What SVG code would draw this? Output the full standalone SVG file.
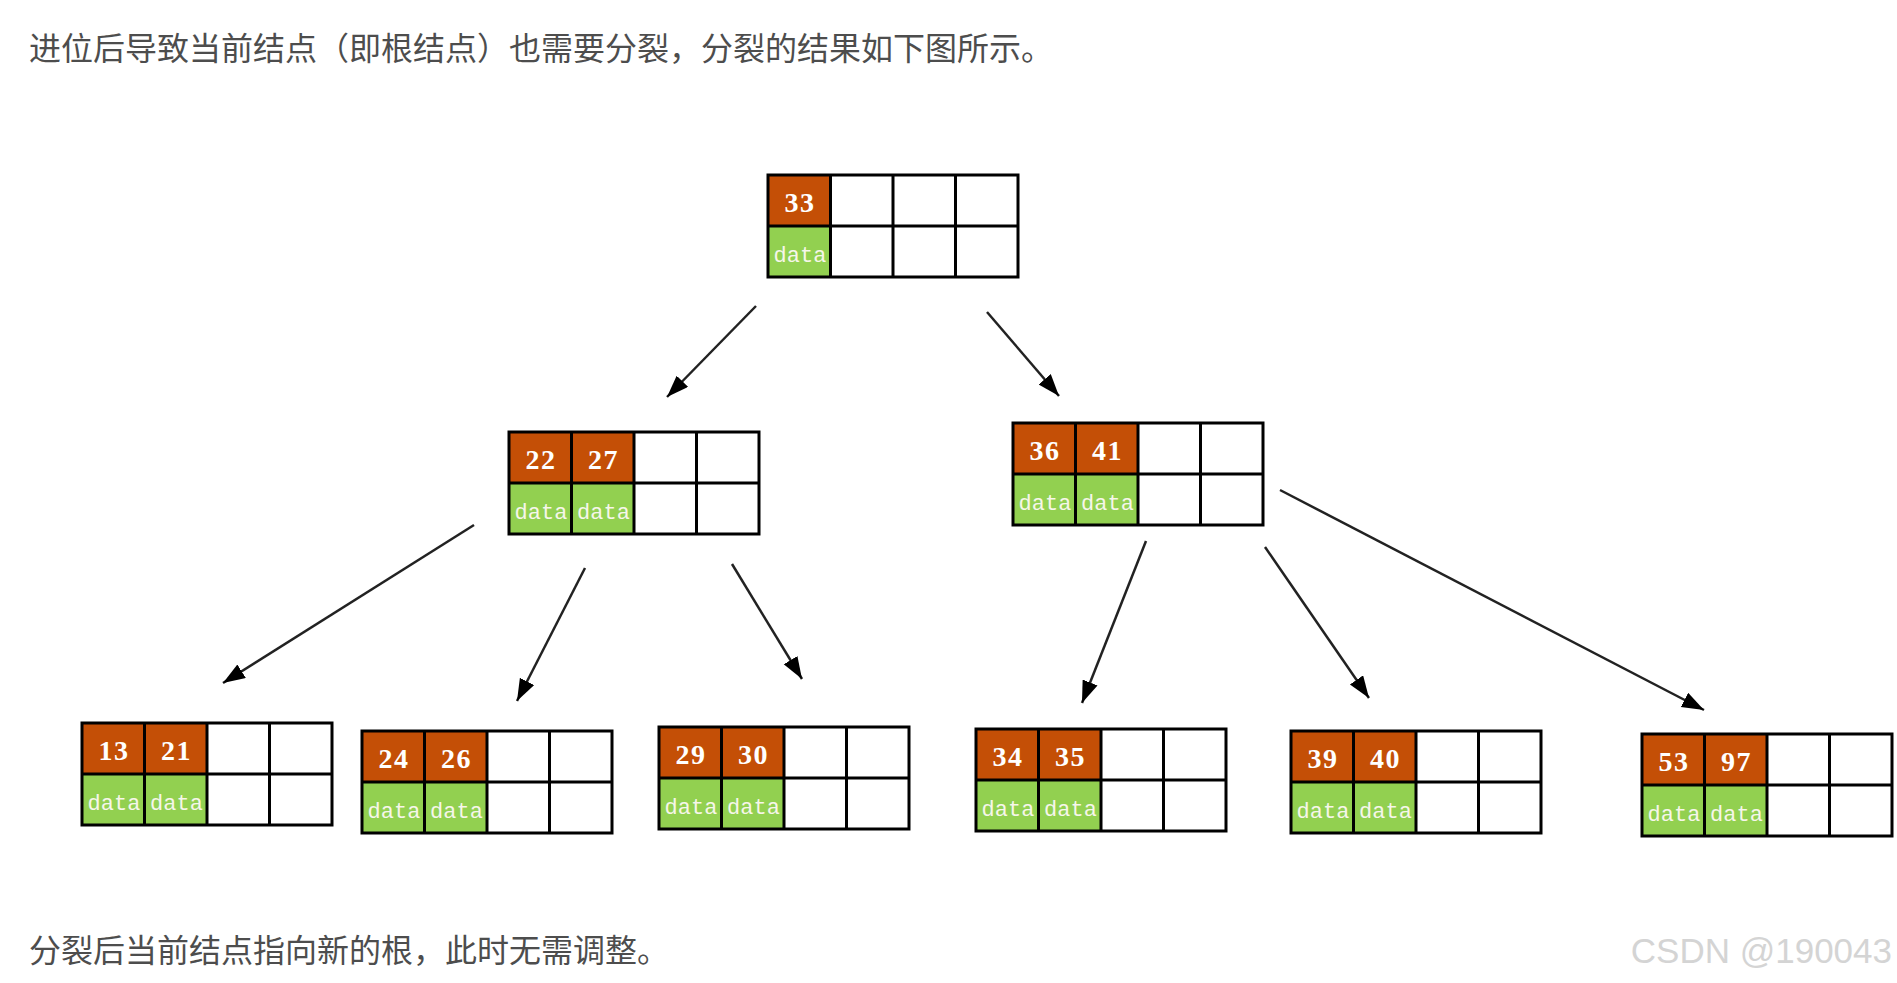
<svg xmlns="http://www.w3.org/2000/svg" width="1897" height="983" viewBox="0 0 1897 983">
<style>
.bg{fill:#ffffff}
.para{font-family:"Noto Sans CJK SC","Noto Sans",sans-serif;font-size:32px;fill:#4d4d4d}
.wm{font-family:"Liberation Sans",Arial,sans-serif;font-size:35px;fill:#d4d4d4;text-anchor:end}
.key{fill:#c44f06}
.dat{fill:#92d050}
.emp{fill:#ffffff}
.grid{fill:none;stroke:#000;stroke-width:3}
.num{font-family:"Liberation Serif",serif;font-weight:bold;font-size:28px;fill:#ffffff;text-anchor:middle;letter-spacing:1.5px}
.dt{font-family:"Liberation Mono",monospace;font-size:22px;fill:#f6f6ea;text-anchor:middle}
.edge{stroke:#222;stroke-width:2.5;fill:none;marker-end:url(#ah)}
</style>
<defs>
<marker id="ah" markerUnits="userSpaceOnUse" markerWidth="24" markerHeight="18" refX="22" refY="8" orient="auto">
<path d="M0,0 L22,8 L0,16 z" fill="#000"/>
</marker>
<g id="frame">
<rect x="125" y="0" width="125" height="102" class="emp"/>
<path class="grid" d="M0,0 H250 V102 H0 Z M62.5,0 V102 M125,0 V102 M187.5,0 V102 M0,51 H250"/>
</g>
</defs>
<rect class="bg" x="0" y="0" width="1897" height="983"/>
<text class="para" x="29" y="60">进位后导致当前结点（即根结点）也需要分裂，分裂的结果如下图所示。</text>

<g id="connectors">
<line class="edge" x1="756" y1="306" x2="667" y2="397"/>
<line class="edge" x1="987" y1="312" x2="1059" y2="396"/>
<line class="edge" x1="474" y1="525" x2="223" y2="683"/>
<line class="edge" x1="585" y1="568" x2="517" y2="701"/>
<line class="edge" x1="732" y1="564" x2="802" y2="679"/>
<line class="edge" x1="1146" y1="541" x2="1082" y2="703"/>
<line class="edge" x1="1265" y1="547" x2="1369" y2="698"/>
<line class="edge" x1="1280" y1="490" x2="1704" y2="710"/>
</g>

<g id="root" transform="translate(768,175)">
<rect class="key" x="0" y="0" width="62.5" height="51"/>
<rect class="dat" x="0" y="51" width="62.5" height="51"/>
<rect class="emp" x="62.5" y="0" width="62.5" height="102"/>
<use href="#frame"/>
<text class="num" x="32" y="37">33</text>
<text class="dt" x="32" y="87">data</text>
</g>

<g id="n2227" transform="translate(509,432)">
<rect class="key" x="0" y="0" width="125" height="51"/>
<rect class="dat" x="0" y="51" width="125" height="51"/>
<use href="#frame"/>
<text class="num" x="32" y="37">22</text><text class="num" x="94.5" y="37">27</text>
<text class="dt" x="32" y="87">data</text><text class="dt" x="94.5" y="87">data</text>
</g>

<g id="n3641" transform="translate(1013,423)">
<rect class="key" x="0" y="0" width="125" height="51"/>
<rect class="dat" x="0" y="51" width="125" height="51"/>
<use href="#frame"/>
<text class="num" x="32" y="37">36</text><text class="num" x="94.5" y="37">41</text>
<text class="dt" x="32" y="87">data</text><text class="dt" x="94.5" y="87">data</text>
</g>

<g id="n1321" transform="translate(82,723)">
<rect class="key" x="0" y="0" width="125" height="51"/>
<rect class="dat" x="0" y="51" width="125" height="51"/>
<use href="#frame"/>
<text class="num" x="32" y="37">13</text><text class="num" x="94.5" y="37">21</text>
<text class="dt" x="32" y="87">data</text><text class="dt" x="94.5" y="87">data</text>
</g>

<g id="n2426" transform="translate(362,731)">
<rect class="key" x="0" y="0" width="125" height="51"/>
<rect class="dat" x="0" y="51" width="125" height="51"/>
<use href="#frame"/>
<text class="num" x="32" y="37">24</text><text class="num" x="94.5" y="37">26</text>
<text class="dt" x="32" y="87">data</text><text class="dt" x="94.5" y="87">data</text>
</g>

<g id="n2930" transform="translate(659,727)">
<rect class="key" x="0" y="0" width="125" height="51"/>
<rect class="dat" x="0" y="51" width="125" height="51"/>
<use href="#frame"/>
<text class="num" x="32" y="37">29</text><text class="num" x="94.5" y="37">30</text>
<text class="dt" x="32" y="87">data</text><text class="dt" x="94.5" y="87">data</text>
</g>

<g id="n3435" transform="translate(976,729)">
<rect class="key" x="0" y="0" width="125" height="51"/>
<rect class="dat" x="0" y="51" width="125" height="51"/>
<use href="#frame"/>
<text class="num" x="32" y="37">34</text><text class="num" x="94.5" y="37">35</text>
<text class="dt" x="32" y="87">data</text><text class="dt" x="94.5" y="87">data</text>
</g>

<g id="n3940" transform="translate(1291,731)">
<rect class="key" x="0" y="0" width="125" height="51"/>
<rect class="dat" x="0" y="51" width="125" height="51"/>
<use href="#frame"/>
<text class="num" x="32" y="37">39</text><text class="num" x="94.5" y="37">40</text>
<text class="dt" x="32" y="87">data</text><text class="dt" x="94.5" y="87">data</text>
</g>

<g id="n5397" transform="translate(1642,734)">
<rect class="key" x="0" y="0" width="125" height="51"/>
<rect class="dat" x="0" y="51" width="125" height="51"/>
<use href="#frame"/>
<text class="num" x="32" y="37">53</text><text class="num" x="94.5" y="37">97</text>
<text class="dt" x="32" y="87">data</text><text class="dt" x="94.5" y="87">data</text>
</g>

<text class="para" x="29" y="962">分裂后当前结点指向新的根，此时无需调整。</text>
<text class="wm" x="1892" y="963">CSDN @190043</text>
</svg>
